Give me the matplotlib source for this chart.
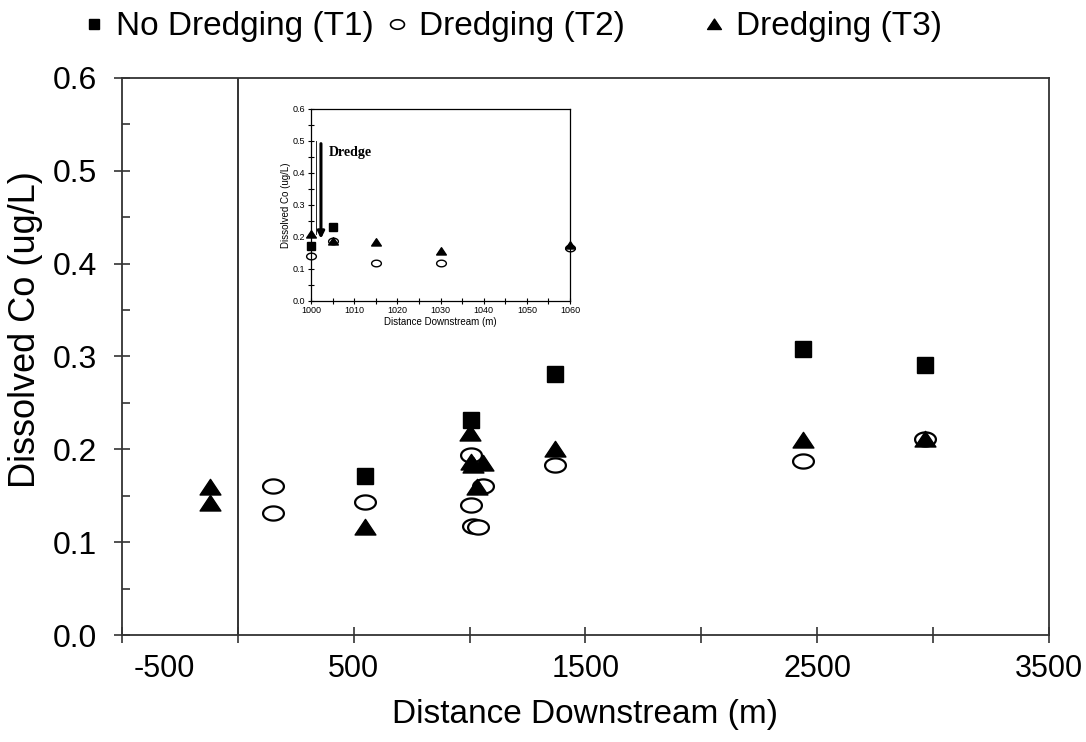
import numpy as np
import matplotlib
matplotlib.use("Agg")
import matplotlib.pyplot as plt
from matplotlib.path import Path
from matplotlib.lines import Line2D
from matplotlib.transforms import ScaledTranslation

# main chart data (distance in m, dissolved Co in ug/L)
t1_x = [550, 1005, 1370, 2440, 2965]
t1_y = [0.171, 0.232, 0.281, 0.308, 0.291]
t2_x = [150, 150, 550, 1005, 1005, 1015, 1035, 1060, 1370, 2440, 2965]
t2_y = [0.161, 0.131, 0.143, 0.194, 0.140, 0.117, 0.116, 0.161, 0.183, 0.187, 0.211]
t3_x = [-120, -120, 550, 1002, 1006, 1015, 1032, 1058, 1370, 2440, 2965]
t3_y = [0.159, 0.142, 0.116, 0.218, 0.186, 0.183, 0.159, 0.185, 0.200, 0.210, 0.211]

# inset data (first 60 m below the dredge)
in_t1_x = [1000, 1005]
in_t1_y = [0.17, 0.231]
in_t2_x = [1000, 1005, 1015, 1030, 1060]
in_t2_y = [0.14, 0.187, 0.118, 0.118, 0.165]
in_t3_x = [1000, 1005, 1015, 1030, 1060]
in_t3_y = [0.21, 0.187, 0.182, 0.156, 0.175]

labels = ["No Dredging (T1)", "Dredging (T2)", "Dredging (T3)"]
xtick_vals = [-500, 500, 1500, 2500, 3500]

plt.rcParams['font.family'] = ['Liberation Sans', 'DejaVu Sans']
plt.rcParams['axes.unicode_minus'] = False

# flattened markers like the original scan
t = np.linspace(0, 2 * np.pi, 60)
ellipse = Path(np.column_stack([np.cos(t), 0.68 * np.sin(t)]), closed=True)
tri = Path([(0, 0.78), (-1, -0.72), (1, -0.72), (0, 0.78)], closed=True)

fig = plt.figure(figsize=(10.86, 7.42), dpi=100)
ax = fig.add_axes([0.1123, 0.1442, 0.8536, 0.7507])

sty = dict(ls="none", color="black")
ax.plot(t1_x, t1_y, marker="s", ms=12, **sty)
ax.plot(t2_x, t2_y, marker=ellipse, ms=15, mfc="white", mec="black", mew=1.6, ls="none")
ax.plot(t3_x, t3_y, marker=tri, ms=15, **sty)
ax.axvline(0, color="#333333", lw=1.4)

ax.set_xlim(-500, 3500)
ax.set_ylim(0, 0.6)
ax.set_xticks(xtick_vals)
ax.set_xticks([0, 1000, 2000, 3000], minor=True)
ax.set_yticks(np.arange(0, 0.61, 0.1))
ax.set_yticks(np.arange(0.05, 0.6, 0.1), minor=True)
ax.yaxis.set_major_formatter(matplotlib.ticker.FormatStrFormatter("%.1f"))
ax.tick_params(axis="x", which="both", direction="inout", length=12, width=1.2,
               labelsize=22, pad=8, colors="#333333", labelcolor="black")
ax.tick_params(axis="y", which="major", direction="inout", length=12, width=1.2,
               labelsize=23, pad=12, colors="#333333", labelcolor="black")
ax.tick_params(axis="y", which="minor", direction="in", length=6, width=1.2, colors="#333333")
for s in ax.spines.values():
    s.set_color("#333333")
    s.set_linewidth(1.3)

# the -500 label sits to the right of its tick in the original
lab0 = ax.get_xticklabels()[0]
lab0.set_transform(lab0.get_transform() + ScaledTranslation(0.42, 0, fig.dpi_scale_trans))

ax.set_xlabel("Distance Downstream (m)", fontsize=24)
ax.set_ylabel("Dissolved Co (ug/L)", fontsize=26)
ax.xaxis.set_label_coords(0.5, -0.115)
ax.yaxis.set_label_coords(-0.085, 0.549)

# legend, three separate entries like the original
hand = [Line2D([], [], marker="s", ms=7, **sty),
        Line2D([], [], marker=ellipse, ms=10, mfc="white", mec="black", mew=1.2, ls="none"),
        Line2D([], [], marker=tri, ms=10, **sty)]
for h, lab, x0 in zip(hand, labels, [0.079, 0.358, 0.650]):
    fig.legend([h], [lab], loc="center left", bbox_to_anchor=(x0, 0.964),
               frameon=False, fontsize=24, handlelength=0.5, handletextpad=0.4,
               borderpad=0, borderaxespad=0)

# inset
axi = fig.add_axes([0.2864, 0.5948, 0.2385, 0.2584])
axi.plot(in_t1_x, in_t1_y, marker="s", ms=5.5, clip_on=False, **sty)
axi.plot(in_t2_x, in_t2_y, marker=ellipse, ms=7, mfc="white", mec="black", mew=1.0,
         ls="none", clip_on=False)
axi.plot(in_t3_x, in_t3_y, marker=tri, ms=7, clip_on=False, **sty)
axi.annotate("", xy=(1002.3, 0.185), xytext=(1002.3, 0.5),
             arrowprops=dict(arrowstyle="-|>", color="black", lw=2.2, mutation_scale=10))
axi.plot([1001.2, 1001.2], [0.21, 0.5], color="black", lw=0.6)
axi.text(1004, 0.465, "Dredge", fontsize=10, fontweight="bold",
         family="Liberation Serif", va="center", ha="left")
axi.set_xlim(1000, 1060)
axi.set_ylim(0, 0.6)
axi.set_xticks(np.arange(1000, 1061, 10))
axi.set_xticks(np.arange(1005, 1060, 10), minor=True)
axi.set_yticks(np.arange(0, 0.61, 0.1))
axi.set_yticks(np.arange(0.05, 0.6, 0.1), minor=True)
axi.yaxis.set_major_formatter(matplotlib.ticker.FormatStrFormatter("%.1f"))
axi.tick_params(which="both", direction="inout", length=4, width=0.8, labelsize=6.5, pad=2)
axi.set_xlabel("Distance Downstream (m)", fontsize=7, labelpad=1)
axi.set_ylabel("Dissolved Co (ug/L)", fontsize=7, labelpad=1)
for s in axi.spines.values():
    s.set_linewidth(0.9)

fig.savefig("out.png", dpi=100)
